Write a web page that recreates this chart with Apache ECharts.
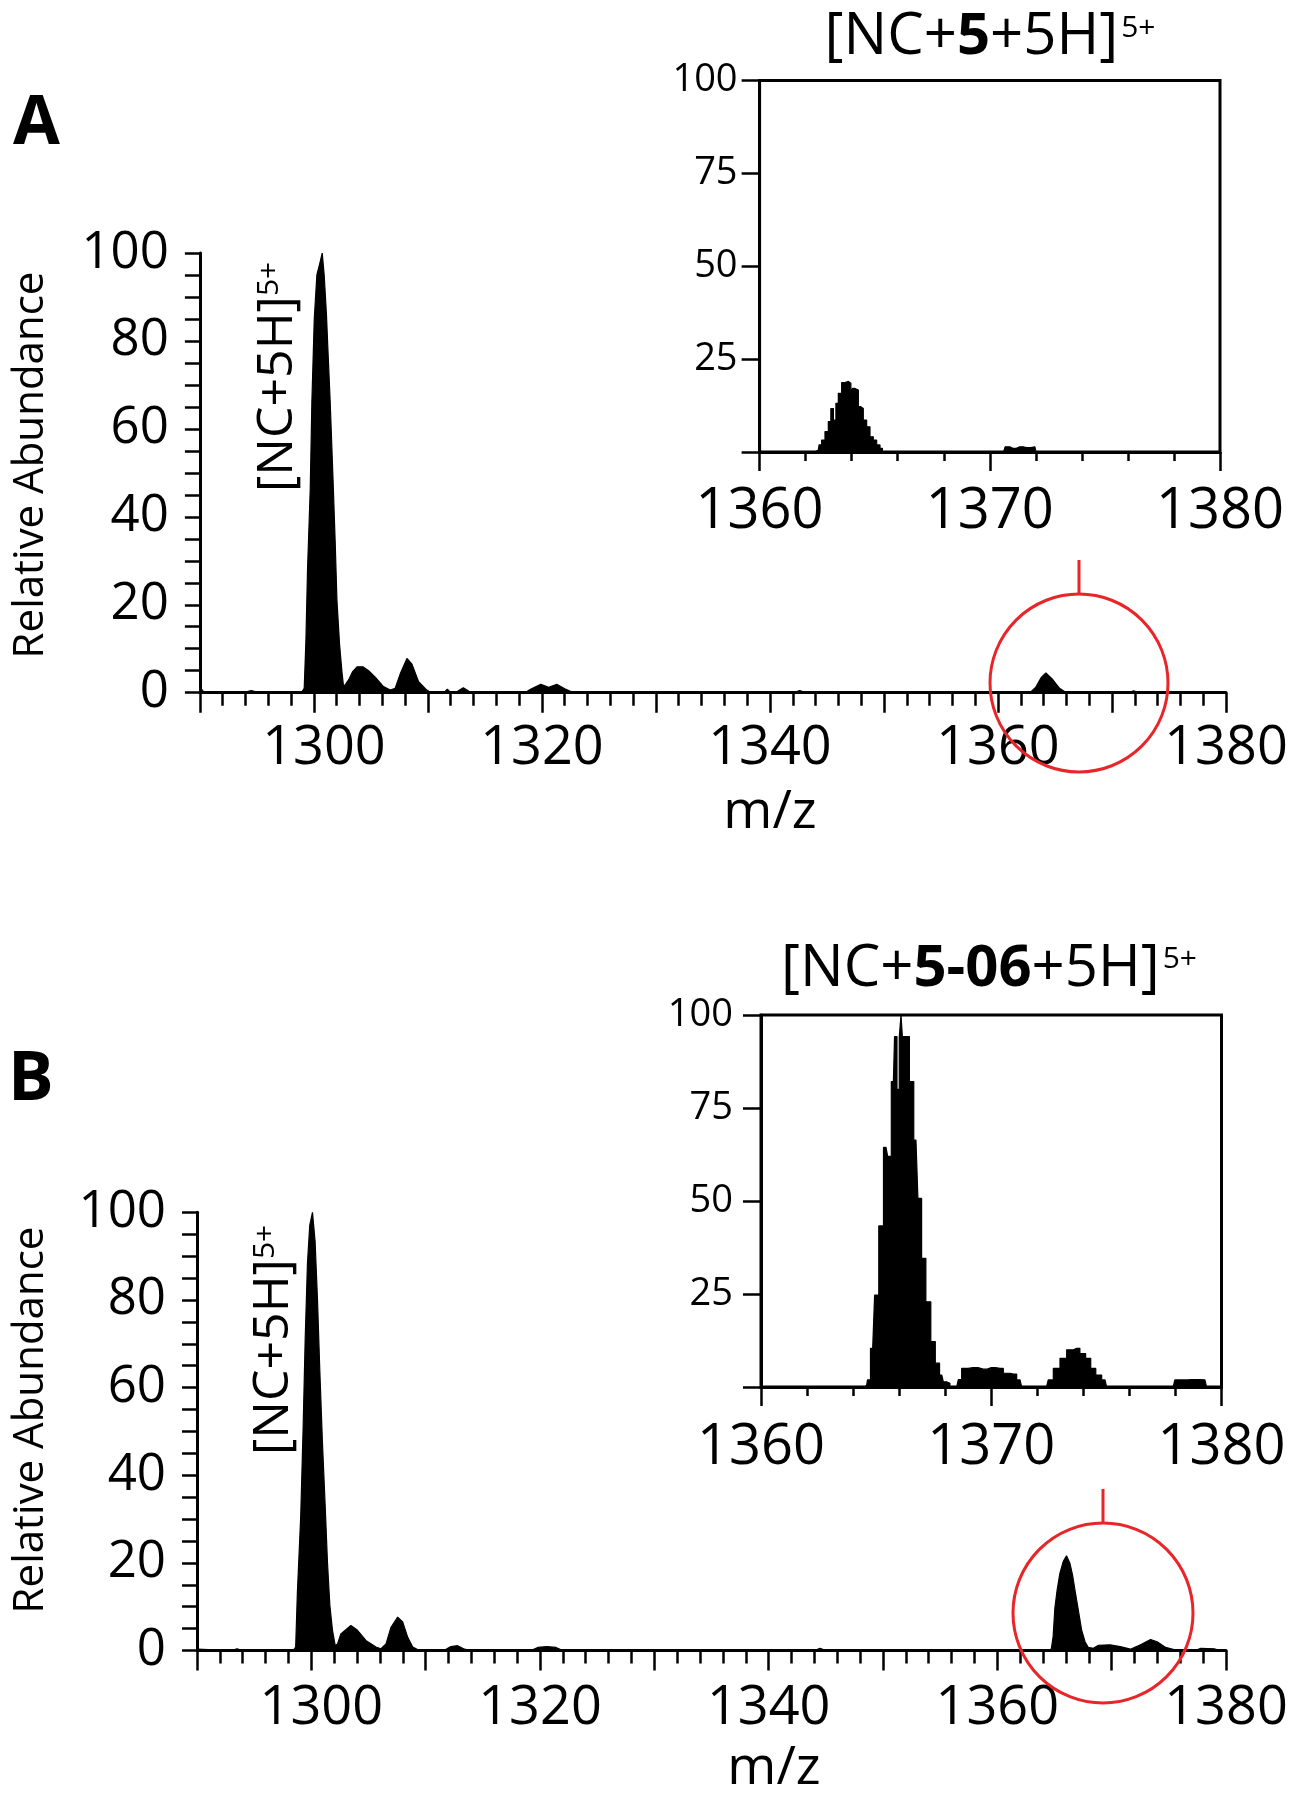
<!DOCTYPE html>
<html>
<head>
<meta charset="utf-8">
<script src="https://cdn.jsdelivr.net/npm/echarts@6/dist/echarts.min.js"></script>
<style>
html,body{margin:0;padding:0;background:#fff;}
#chart{width:1293px;height:1800px;}
</style>
</head>
<body>
<div id="chart"></div>
<script>
// ---------- DATA ----------
// Panel A, full spectrum (m/z, relative abundance %)
const mainA_mz = [1290.0,1290.4,1293.8,1294.5,1295.2,1298.9,1299.15,1299.30,1299.44,1299.68,1299.82,1300.03,1300.26,1300.55,1300.73,1300.9,1301.1,1301.23,1301.43,1301.67,1301.87,1302.02,1302.25,1302.45,1302.6,1302.8,1303.04,1303.4,1303.8,1304.3,1304.8,1305.4,1306.1,1306.7,1307.13,1307.6,1308.16,1308.6,1309.18,1309.9,1310.3,1311.4,1311.7,1312.0,1312.6,1313.1,1313.6,1314.0,1318.5,1319.0,1319.9,1320.6,1321.3,1322.0,1322.5,1323.0,1342.0,1342.6,1343.2,1362.8,1363.3,1363.8,1364.2,1364.8,1365.4,1366.0,1371.4,1371.9,1372.4,1380.0];
const mainA_ab = [1.2,0,0,0.5,0,0,1,12,28,46.5,66,85,95,98,100,95,86,78,66,49,34,21,11,5,1.4,2,2.9,4.8,5.9,5.9,5,3.5,1.4,0.6,1,4.5,7.8,6.5,2.5,0.6,0,0,0.8,0,0.3,1.1,0.3,0,0,0.8,1.9,1.2,1.9,0.9,0.3,0,0,0.5,0,0,1.2,3.5,4.5,3,1,0,0,0.4,0,0];

// Panel A, inset (zoom 1360-1380)
const insetA_mz = [1360.0,1362.4,1362.55,1362.62,1362.77,1362.91,1363.06,1363.13,1363.28,1363.35,1363.49,1363.64,1363.78,1363.93,1364.0,1364.07,1364.22,1364.36,1364.43,1364.58,1364.72,1364.87,1365.01,1365.16,1365.30,1365.37,1370.6,1370.73,1371.0,1371.3,1371.6,1371.96,1372.05,1380.0];
const insetA_ab = [0,0,0.5,1.9,3.2,5.5,8.2,11.7,8.6,13.1,15.8,18.7,19,18.5,15.8,17.1,16.7,12.2,11.7,8.6,6.8,4.1,3.2,1.9,1,0,0,1.4,1.0,1.4,1.2,1.4,0,0];

// Panel B, full spectrum
const mainB_mz = [1290.0,1293.0,1293.5,1294.0,1298.4,1298.63,1298.78,1299.07,1299.28,1299.46,1299.66,1299.86,1300.1,1300.33,1300.54,1300.74,1300.97,1301.21,1301.41,1301.62,1301.85,1302.09,1302.29,1302.58,1303.46,1304.04,1304.77,1305.65,1306.09,1306.53,1306.97,1307.55,1307.99,1308.43,1308.87,1309.46,1311.6,1312.2,1312.8,1313.4,1314.0,1319.2,1319.8,1320.6,1321.4,1322.0,1344.0,1344.5,1345.0,1364.6,1364.73,1364.88,1365.03,1365.23,1365.47,1365.76,1366.05,1366.35,1366.58,1366.79,1367.08,1367.37,1367.67,1367.96,1368.4,1368.84,1369.87,1370.75,1371.64,1372.52,1373.4,1373.98,1374.72,1375.45,1376.5,1377.3,1377.8,1378.97,1379.5,1380.0];
const mainB_ab = [0.3,0,0.4,0,0,0.8,13.3,30.5,50.6,70.8,88.3,97,100,93.3,80,64,47.6,33.1,20.2,10.3,4.6,1.1,1.5,3.8,5.7,4.6,2.3,0.8,0.4,1.5,5.3,7.6,6.5,3,0.8,0,0,0.9,1.1,0.3,0,0,0.7,0.9,0.7,0,0,0.5,0,0,0.5,3.2,9.6,13.8,17.6,20.3,21.6,19.9,17.2,13.8,9.3,4.7,2,0.7,0.5,1.2,1.3,0.9,0.3,1.3,2.5,2.0,0.7,0.2,0,0,0.5,0.4,0,0];

// Panel B, inset (zoom 1360-1380)
const insetB_mz = [1360.0,1364.5,1364.59,1364.66,1364.85,1365.02,1365.21,1365.43,1365.57,1365.75,1365.85,1365.96,1366.05,1366.11,1366.17,1366.35,1366.54,1366.73,1366.90,1367.05,1367.27,1367.48,1367.66,1367.85,1367.99,1368.13,1368.28,1368.5,1368.64,1368.79,1369.2,1369.65,1370.0,1370.38,1370.67,1370.96,1371.25,1371.39,1372.4,1372.55,1372.84,1373.13,1373.42,1373.71,1373.99,1374.21,1374.43,1374.65,1374.94,1375.08,1377.9,1378.05,1378.34,1378.7,1379.28,1379.42,1380.0];
const insetB_ab = [0,0,0.5,1.9,10.4,24.7,43.3,64.4,62,82.1,94.2,80,94,100,94.2,94.2,82.1,66.4,50.7,34.6,22.9,12.2,6.4,3.2,1.4,1,0,0,2,5,5.2,4.8,5.2,5,3.7,3.5,1.9,0,0,1.9,5,7.7,10,10.4,9,7.7,5,3.2,1.9,0,0,1.9,1.9,2,1.9,0,0];

// Axis ranges / ticks
const mainX = {min: 1290, max: 1380, major: 10, labelEvery: 20, minorSplit: 5};
const mainY = {min: 0, max: 100, major: 20, minorSplit: 4};
const insetX = {min: 1360, max: 1380, major: 10, minorSplit: 5};
const insetY = {min: 0, max: 100, major: 25};

// ---------- helpers ----------
const FONT = '"Open Sans", "Noto Sans", sans-serif';
const mctx = document.createElement('canvas').getContext('2d');
function cssFont(size, weight) { return (weight || 'normal') + ' ' + size + 'px ' + FONT; }
function textW(t, size, weight) { mctx.font = cssFont(size, weight); return mctx.measureText(t).width; }
function midToBase(size, weight) {
  mctx.font = cssFont(size, weight); mctx.textBaseline = 'middle';
  const d = mctx.measureText('H').actualBoundingBoxDescent;
  mctx.textBaseline = 'alphabetic';
  return d;
}
// composite label: segments placed side by side on a common baseline
function composite(segs, x, y, rotation, align) {
  let total = 0; const items = [];
  segs.forEach(s => { const w = textW(s.t, s.size, s.weight); items.push({s: s, off: total}); total += w + (s.gap || 0); });
  const start = align === 'center' ? -total / 2 : 0;
  return {
    type: 'group', x: x, y: y, rotation: rotation || 0, silent: true, z: 100,
    children: items.map(it => ({
      type: 'text',
      x: start + it.off,
      y: -(it.s.rise || 0) - midToBase(it.s.size, it.s.weight),
      style: {
        text: it.s.t, fontSize: it.s.size, fontFamily: FONT, fontWeight: it.s.weight || 'normal',
        fill: '#000', align: 'left', verticalAlign: 'middle', textAlign: 'left', textVerticalAlign: 'middle'
      }
    }))
  };
}
function zip(a, b) { return a.map((v, i) => [v, b[i]]); }

const black = '#000';
function xMain(gi, margin) {
  return {
    type: 'value', gridIndex: gi, min: mainX.min, max: mainX.max, interval: mainX.major,
    axisLine: {show: true, onZero: false, lineStyle: {color: black, width: 3}},
    axisTick: {show: true, length: 20, lineStyle: {color: black, width: 2.5}},
    minorTick: {show: true, splitNumber: mainX.minorSplit, length: 13, lineStyle: {color: black, width: 2.5}},
    splitLine: {show: false}, minorSplitLine: {show: false},
    axisLabel: {margin: margin, fontSize: 54, fontFamily: FONT, color: black,
      rich: {sh: {padding: [0, 0, 0, 20], fontSize: 54, fontFamily: FONT, color: black}},
      formatter: v => (v % mainX.labelEvery !== 0 ? '' : (v === 1300 ? '{sh|1300}' : String(v)))}
  };
}
function yMain(gi) {
  return {
    type: 'value', gridIndex: gi, min: mainY.min, max: mainY.max, interval: mainY.major,
    axisLine: {show: true, onZero: false, lineStyle: {color: black, width: 3}},
    axisTick: {show: true, length: 15, lineStyle: {color: black, width: 2.5}},
    minorTick: {show: true, splitNumber: mainY.minorSplit, length: 15, lineStyle: {color: black, width: 2.5}},
    splitLine: {show: false}, minorSplitLine: {show: false},
    axisLabel: {margin: 31, fontSize: 51, fontFamily: FONT, color: black, padding: [13, 0, 0, 0]}
  };
}
function xInset(gi, margin) {
  return {
    type: 'value', gridIndex: gi, min: insetX.min, max: insetX.max, interval: insetX.major,
    axisLine: {show: true, onZero: false, lineStyle: {color: black, width: 3}},
    axisTick: {show: true, length: 19, lineStyle: {color: black, width: 2.5}},
    minorTick: {show: true, splitNumber: insetX.minorSplit, length: 9, lineStyle: {color: black, width: 2.5}},
    splitLine: {show: false}, minorSplitLine: {show: false},
    axisLabel: {margin: margin, fontSize: 56, fontFamily: FONT, color: black, formatter: v => String(v)}
  };
}
function yInset(gi, margin) {
  return {
    type: 'value', gridIndex: gi, min: insetY.min, max: insetY.max, interval: insetY.major,
    axisLine: {show: true, onZero: false, lineStyle: {color: black, width: 3}},
    axisTick: {show: true, length: 18, lineStyle: {color: black, width: 2.5}},
    splitLine: {show: false},
    axisLabel: {margin: margin, fontSize: 38, fontFamily: FONT, color: black,
      formatter: v => (v === 0 ? '' : String(v))}
  };
}
function spec(gi, data, step) {
  return {
    type: 'line', xAxisIndex: gi, yAxisIndex: gi, data: data, step: step || false,
    showSymbol: false, symbol: 'none', silent: true, animation: false, clip: true,
    lineStyle: {color: black, width: 1.2}, areaStyle: {color: black, opacity: 1}
  };
}

const red = '#e8262a';
const option = {
  backgroundColor: '#fff',
  animation: false,
  grid: [
    {left: 199.9, top: 253, width: 1026.1, height: 439.7},
    {left: 759.6, top: 80.5, width: 460.4, height: 371.5, show: true, borderColor: black, borderWidth: 3, backgroundColor: 'transparent'},
    {left: 197, top: 1212.3, width: 1029, height: 438.2},
    {left: 761, top: 1015, width: 460.5, height: 372, show: true, borderColor: black, borderWidth: 3, backgroundColor: 'transparent'}
  ],
  xAxis: [xMain(0, 29), xInset(1, 32), xMain(2, 31), xInset(3, 33)],
  yAxis: [yMain(0), yInset(1, 22), yMain(2), yInset(3, 28)],
  series: [
    spec(0, zip(mainA_mz, mainA_ab)),
    spec(1, zip(insetA_mz, insetA_ab), 'middle'),
    spec(2, zip(mainB_mz, mainB_ab)),
    spec(3, zip(insetB_mz, insetB_ab), 'middle')
  ],
  graphic: [
    // panel letters
    composite([{t: 'A', size: 68, weight: 'bold'}], 13, 143.5, 0, 'left'),
    composite([{t: 'B', size: 68, weight: 'bold'}], 8, 1100, 0, 'left'),
    // y axis titles
    composite([{t: 'Relative Abundance', size: 42}], 43, 465, Math.PI / 2, 'center'),
    composite([{t: 'Relative Abundance', size: 42}], 43, 1420, Math.PI / 2, 'center'),
    // x axis titles
    composite([{t: 'm/z', size: 53}], 770, 828, 0, 'center'),
    composite([{t: 'm/z', size: 53}], 774, 1784, 0, 'center'),
    // peak annotations
    composite([{t: '[NC+5H]', size: 50}, {t: '5+', size: 30, rise: 14}], 292, 492, Math.PI / 2, 'left'),
    composite([{t: '[NC+5H]', size: 50}, {t: '5+', size: 30, rise: 14}], 288, 1455, Math.PI / 2, 'left'),
    // inset titles
    composite([{t: '[NC+', size: 58}, {t: '5', size: 58, weight: 'bold'}, {t: '+5H]', size: 58, gap: 3}, {t: '5+', size: 30, rise: 17}], 990, 54, 0, 'center'),
    composite([{t: '[NC+', size: 58}, {t: '5-06', size: 58, weight: 'bold'}, {t: '+5H]', size: 58, gap: 3}, {t: '5+', size: 30, rise: 18}], 989, 986, 0, 'center'),
    // red highlight circles
    {type: 'circle', z: 100, silent: true, shape: {cx: 1079, cy: 683, r: 89}, style: {fill: 'none', stroke: red, lineWidth: 3}},
    {type: 'line', z: 100, silent: true, shape: {x1: 1079, y1: 560, x2: 1079, y2: 594}, style: {stroke: red, lineWidth: 3}},
    {type: 'circle', z: 100, silent: true, shape: {cx: 1103, cy: 1613, r: 90}, style: {fill: 'none', stroke: red, lineWidth: 3}},
    {type: 'line', z: 100, silent: true, shape: {x1: 1103, y1: 1489, x2: 1103, y2: 1523}, style: {stroke: red, lineWidth: 3}}
  ]
};

const chart = echarts.init(document.getElementById('chart'), null, {renderer: 'canvas', width: 1293, height: 1800});
chart.setOption(option);
</script>
</body>
</html>
